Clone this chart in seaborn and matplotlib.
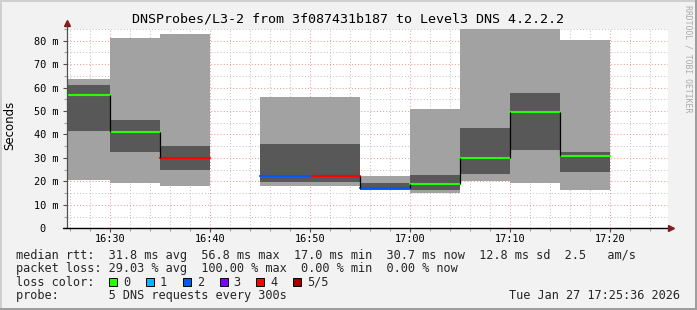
import numpy as np
import pandas as pd
import matplotlib
matplotlib.use("Agg")
import matplotlib.pyplot as plt
import seaborn as sns
from matplotlib.patches import Rectangle
from matplotlib.ticker import FixedLocator, MultipleLocator

# ---------------- data ----------------
title = "DNSProbes/L3-2 from 3f087431b187 to Level3 DNS 4.2.2.2"
interval_end = ["16:30", "16:35", "16:40", "16:45", "16:50", "16:55",
                "17:00", "17:05", "17:10", "17:15", "17:20"]
rtt_max = [63.8, 81.2, 83.0, np.nan, 56.0, 56.0, 22.1, 51.0, 88.0, 85.1, 80.2]
rtt_upper = [61.2, 46.3, 35.3, np.nan, 36.0, 36.0, 19.2, 22.8, 42.9, 57.8, 32.6]
rtt_median = [56.8, 41.2, 29.9, np.nan, 22.1, 22.1, 17.0, 18.8, 30.0, 49.8, 30.7]
rtt_lower = [41.7, 32.7, 24.9, np.nan, 19.9, 19.9, 16.4, 16.4, 23.2, 33.5, 24.1]
rtt_min = [20.6, 19.5, 18.2, np.nan, 18.2, 18.2, 16.2, 15.2, 20.2, 19.5, 16.4]
loss_count = ["0", "0", "4", "5/5", "2", "4", "2", "0", "0", "0", "0"]

x_tick_labels = ["16:30", "16:40", "16:50", "17:00", "17:10", "17:20"]
y_ticks = [0, 10, 20, 30, 40, 50, 60, 70, 80]
y_tick_labels = ["0  ", "10 m", "20 m", "30 m", "40 m", "50 m", "60 m", "70 m", "80 m"]

loss_labels = ["0", "1", "2", "3", "4", "5/5"]
loss_colors = ["#26ff00", "#00b8ff", "#0059ff", "#7e00ff", "#ff0000", "#a00000"]

line_rtt = "median rtt:  31.8 ms avg  56.8 ms max  17.0 ms min  30.7 ms now  12.8 ms sd  2.5   am/s"
line_loss = "packet loss: 29.03 % avg  100.00 % max  0.00 % min  0.00 % now"
line_color = "loss color:"
line_probe = "probe:       5 DNS requests every 300s"
timestamp = "Tue Jan 27 17:25:36 2026"
watermark = "RRDTOOL / TOBI OETIKER"
step_minutes = 5


def to_min(s):
    h, m = map(int, s.split(":"))
    return (h - 16) * 60 + m


# ---------------- style ----------------
sns.set_theme(style="white")
plt.rcParams["font.family"] = ["DejaVu Sans Mono", "DejaVu Sans"]

W, H = 697, 310
fig = plt.figure(figsize=(W / 100, H / 100), dpi=100, facecolor="#f2f2f2")


def fx(x):
    return x / W


def fy(y):
    return 1 - y / H


# frame shading
fig.add_artist(Rectangle((0, fy(2)), 1, 2 / H, transform=fig.transFigure, fc="#cfcfcf", ec="none"))
fig.add_artist(Rectangle((0, 0), 2 / W, 1, transform=fig.transFigure, fc="#cfcfcf", ec="none"))
fig.add_artist(Rectangle((fx(695), 0), 2 / W, 1, transform=fig.transFigure, fc="#9e9e9e", ec="none"))
fig.add_artist(Rectangle((0, 0), 1, 2 / H, transform=fig.transFigure, fc="#9e9e9e", ec="none"))

left, right, top, bottom = 67, 668, 28.5, 228.3
ax = fig.add_axes([fx(left), fy(bottom), (right - left) / W, (bottom - top) / H])
ax.set_facecolor("white")

ends = np.array([to_min(t) for t in interval_end], dtype=float)
starts = ends - step_minutes
mx = np.array(rtt_max); up = np.array(rtt_upper); md = np.array(rtt_median)
lo = np.array(rtt_lower); mn = np.array(rtt_min)

# smoke
ax.bar(starts, mx - mn, bottom=mn, width=step_minutes, align="edge",
       color="#a2a2a2", edgecolor="none", linewidth=0, zorder=2)
ax.bar(starts, up - lo, bottom=lo, width=step_minutes, align="edge",
       color="#585858", edgecolor="none", linewidth=0, zorder=3)

# median lines
rows = []
for i in range(len(ends)):
    if np.isnan(md[i]):
        continue
    rows.append(dict(t=starts[i], median=md[i], seg=i, loss=loss_count[i]))
    rows.append(dict(t=ends[i], median=md[i], seg=i, loss=loss_count[i]))
df = pd.DataFrame(rows)
sns.lineplot(data=df, x="t", y="median", hue="loss", units="seg", estimator=None,
             palette=dict(zip(loss_labels, loss_colors)), linewidth=1.5,
             legend=False, ax=ax, zorder=5)
for i in range(1, len(ends)):
    if not np.isnan(md[i]) and not np.isnan(md[i - 1]):
        ax.vlines(starts[i], min(md[i - 1], md[i]), max(md[i - 1], md[i]),
                  color="black", linewidth=0.9, zorder=6)

# axes limits / ticks
ax.set_xlim(25.67, 85.8)
ax.set_ylim(0, 85.2)
ax.xaxis.set_major_locator(FixedLocator([to_min(t) for t in x_tick_labels]))
ax.set_xticklabels(x_tick_labels)
ax.xaxis.set_minor_locator(MultipleLocator(2))
ax.set_yticks(y_ticks)
ax.set_yticklabels(y_tick_labels)
ax.yaxis.set_minor_locator(MultipleLocator(5))
ax.set_xlabel("")
ax.set_ylabel("")

ax.tick_params(axis="both", which="major", labelsize=7.4, length=3, width=0.8,
               color="#505050", direction="out", labelcolor="black")
ax.tick_params(axis="both", which="minor", length=2, width=0.8, color="#a0a0a0",
               direction="out")
ax.tick_params(axis="x", which="both", bottom=True, pad=1)
ax.tick_params(axis="y", which="both", left=True, pad=3)

ax.set_axisbelow(True)
ax.grid(True, which="minor", color="#c4c4c4", linewidth=0.75, linestyle=(0, (1, 2)))
ax.grid(True, which="major", color="#f09a9a", linewidth=0.75, linestyle=(0, (1, 2)))

for s in ["top", "right", "left", "bottom"]:
    ax.spines[s].set_visible(False)
ax.plot([0, 0], [0, 1.025], transform=ax.transAxes, color="#505050", lw=0.9,
        clip_on=False, zorder=7)
ax.plot([-0.006, 1.0], [0, 0], transform=ax.transAxes, color="black", lw=1.0,
        clip_on=False, zorder=7)
ax.plot([0], [1.03], marker="^", markersize=4.5, color="#7f1f1f", transform=ax.transAxes,
        clip_on=False, zorder=8)
ax.plot([1.005], [0], marker=">", markersize=4.5, color="#7f1f1f", transform=ax.transAxes,
        clip_on=False, zorder=8)

# texts
fig.text(fx(348), fy(19.3), title, ha="center", va="center", fontsize=9.6, color="black")
fig.text(fx(10), fy(125), "Seconds", rotation=90, ha="center", va="center",
         fontsize=8.5, family="DejaVu Sans", color="black")
fig.text(fx(688), fy(59), watermark, rotation=270, ha="center", va="center",
         fontsize=5.9, color="#aaaaaa")

fs = 8.55
fig.text(fx(16), fy(255), line_rtt, ha="left", va="center", fontsize=fs)
fig.text(fx(16), fy(268.3), line_loss, ha="left", va="center", fontsize=fs)
fig.text(fx(16), fy(282.3), line_color, ha="left", va="center", fontsize=fs)
fig.text(fx(16), fy(295.7), line_probe, ha="left", va="center", fontsize=fs)
fig.text(fx(680), fy(295.7), timestamp, ha="right", va="center", fontsize=fs)

for i, (lab, col) in enumerate(zip(loss_labels, loss_colors)):
    bx = 109 + i * 36.86
    fig.add_artist(Rectangle((fx(bx), fy(286.3)), 8 / W, 8 / H, transform=fig.transFigure,
                             fc=col, ec="black", lw=0.7))
    fig.text(fx(bx + 14), fy(282.3), lab, ha="left", va="center", fontsize=fs)

fig.savefig("out.png", dpi=100, facecolor=fig.get_facecolor())
